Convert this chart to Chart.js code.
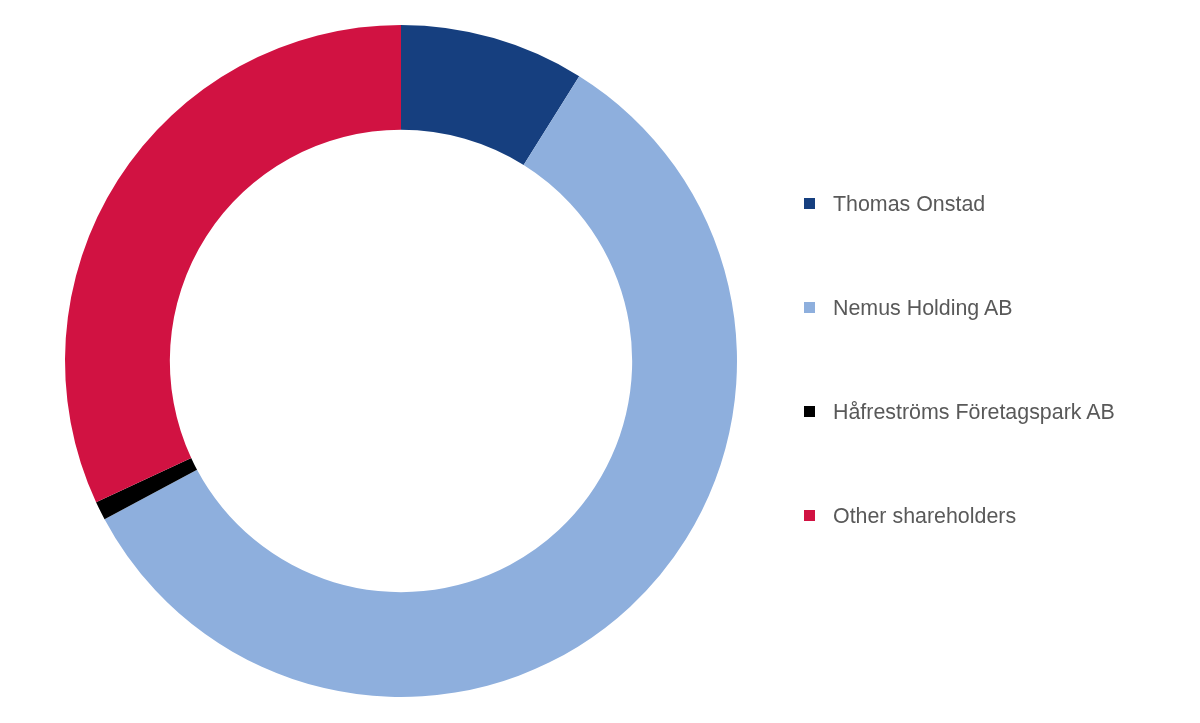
<!DOCTYPE html>
<html>
<head>
<meta charset="utf-8">
<script src="https://cdn.jsdelivr.net/npm/chart.js@4"></script>
<style>
    body{ margin:0; background:#fff; }
    .wrap{ position:relative; width:1200px; height:723px; }
    .legend{ position:absolute; left:804px; top:0; margin:0; padding:0; list-style:none;
        font-family:"Liberation Sans", Arial, sans-serif; font-size:21.4px; color:#595959; }
    .legend li{ position:absolute; left:0; white-space:nowrap; height:24px; line-height:24px; }
    .legend li span{ position:absolute; left:0; top:6px; width:11px; height:11px; }
    .legend li p{ margin:0; padding-left:29px; }
</style>
</head>
<body>
<div class="wrap">
    <canvas id="donut" width="1200" height="723"></canvas>
    <ul class="legend"></ul>
</div>
<script>
// 주주 구성
const labels = ["Thomas Onstad", "Nemus Holding AB", "Håfreströms Företagspark AB", "Other shareholders"];
const shares = [8.9, 58.3, 0.9, 31.9];
const colors = ["#163f7f", "#8eafdd", "#000000", "#d11242"];

// 범례 (오른쪽)
labels.forEach((name, i) => {
    const li = document.createElement("li");
    li.style.top = (192 + i * 104) + "px";
    li.innerHTML = `<span style="background:${colors[i]}"></span><p>${name}</p>`;
    document.querySelector(".legend").appendChild(li);
});

// 도넛 그래프
new Chart(document.getElementById("donut"), {
    type: 'doughnut',
    data: {
        labels: labels,
        datasets: [{
            data: shares,
            backgroundColor: colors,
            borderWidth: 0,
        }]
    },
    options: {
        responsive: false,
        animation: false,
        cutout: '68.8%',
        layout: {
            padding: { left: 65, right: 463, top: 25, bottom: 26 }
        },
        plugins: {
            legend: { display: false },
            tooltip: { enabled: false },
        },
    },
});
</script>
</body>
</html>
